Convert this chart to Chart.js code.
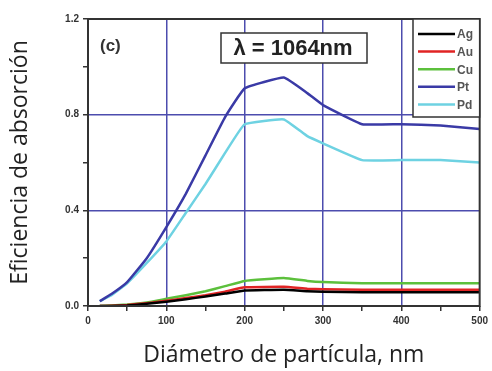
<!DOCTYPE html>
<html>
<head>
<meta charset="utf-8">
<script src="https://cdn.jsdelivr.net/npm/chart.js@4.4.0/dist/chart.umd.min.js"></script>
<style>
  html, body { margin: 0; padding: 0; background: #fff; }
  #wrap { width: 492px; height: 371px; }
</style>
</head>
<body>
<div id="wrap"><canvas id="chart" width="492" height="371"></canvas></div>
<script>
// particle diameter (nm)
const diam = [15, 30, 50, 75, 100, 125, 150, 175, 200, 250, 280, 300, 350, 400, 450, 500];

const metals = ["Ag", "Au", "Cu", "Pt", "Pd"];
const agVals = [0, 0, 0.002, 0.009, 0.018, 0.028, 0.040, 0.052, 0.065, 0.068, 0.062, 0.060, 0.058, 0.058, 0.058, 0.058];
const auVals = [0, 0.001, 0.004, 0.012, 0.022, 0.033, 0.045, 0.060, 0.078, 0.080, 0.072, 0.070, 0.068, 0.068, 0.068, 0.068];
const cuVals = [0, 0.002, 0.006, 0.015, 0.030, 0.045, 0.062, 0.083, 0.105, 0.117, 0.105, 0.100, 0.095, 0.095, 0.095, 0.095];
const ptVals = [0.02, 0.05, 0.10, 0.20, 0.33, 0.47, 0.63, 0.79, 0.91, 0.955, 0.89, 0.84, 0.76, 0.76, 0.755, 0.74];
const pdVals = [0.02, 0.045, 0.095, 0.18, 0.27, 0.39, 0.51, 0.64, 0.76, 0.78, 0.71, 0.68, 0.61, 0.61, 0.61, 0.60];

const colors = ["#000000", "#e02424", "#5cc03c", "#3a3aa6", "#6ed2e2"];
const series = [agVals, auVals, cuVals, ptVals, pdVals];

const gridBlue = "#4c4cae";
const dark = "#333333";

const boxPlugin = {
  id: "boxes",
  afterDatasetsDraw(chart) {
    const { ctx, chartArea: a } = chart;
    ctx.save();
    // frame
    ctx.strokeStyle = dark;
    ctx.lineWidth = 2;
    ctx.strokeRect(a.left, a.top, a.right - a.left, a.bottom - a.top);

    // (c) label
    ctx.fillStyle = dark;
    ctx.font = "bold 17px 'Liberation Sans', Arial, sans-serif";
    ctx.textBaseline = "middle";
    ctx.textAlign = "left";
    ctx.fillText("(c)", a.left + 12, 46);

    // wavelength box
    ctx.fillStyle = "#fff";
    ctx.fillRect(221, 33, 146, 30);
    ctx.strokeStyle = dark;
    ctx.lineWidth = 1.5;
    ctx.strokeRect(221, 33, 146, 30);
    ctx.fillStyle = "#222";
    ctx.font = "bold 22px 'Liberation Sans', Arial, sans-serif";
    ctx.textAlign = "center";
    ctx.fillText("\u03bb = 1064nm", 293, 49);

    // legend
    const lx = 413, ly = a.top, lw = a.right - 413, lh = 98;
    ctx.fillStyle = "#fff";
    ctx.fillRect(lx, ly, lw, lh);
    ctx.strokeStyle = dark;
    ctx.lineWidth = 1.5;
    ctx.strokeRect(lx, ly, lw, lh);
    ctx.font = "bold 12px 'Liberation Sans', Arial, sans-serif";
    ctx.textAlign = "left";
    chart.data.datasets.forEach((ds, i) => {
      const y = 34 + i * 17.6;
      ctx.strokeStyle = ds.borderColor;
      ctx.lineWidth = 2.5;
      ctx.beginPath();
      ctx.moveTo(418, y);
      ctx.lineTo(455, y);
      ctx.stroke();
      ctx.fillStyle = "#555";
      ctx.fillText(ds.label, 457, y + 1);
    });
    ctx.restore();
  }
};

new Chart(document.getElementById("chart"), {
  type: "line",
  plugins: [boxPlugin],
  data: {
    datasets: metals.map((m, i) => ({
      label: m,
      data: diam.map((d, j) => ({ x: d, y: series[i][j] })),
      borderColor: colors[i],
      backgroundColor: colors[i],
      borderWidth: 2.5,
      pointRadius: 0,
      tension: 0.1,
      fill: false
    }))
  },
  options: {
    responsive: false,
    animation: false,
    layout: { padding: { left: 3, right: 11, top: 19, bottom: 1 } },
    plugins: { legend: { display: false }, tooltip: { enabled: false } },
    scales: {
      x: {
        type: "linear",
        min: 0,
        max: 500,
        border: { display: false },
        ticks: {
          stepSize: 50,
          padding: 4,
          color: dark,
          font: { family: "'Liberation Sans', Arial, sans-serif", size: 10, weight: "bold" },
          maxRotation: 0,
          callback: v => (v % 100 === 0 ? v : "")
        },
        grid: {
          color: c => (c.tick && c.tick.value % 100 === 0 && c.tick.value > 0 && c.tick.value < 500 ? gridBlue : "rgba(0,0,0,0)"),
          lineWidth: 1.5,
          tickColor: dark,
          tickLength: 5,
          drawTicks: true
        },
        title: {
          display: true,
          text: "Diámetro de partícula, nm",
          color: "#222",
          font: { family: "'Open Sans', sans-serif", size: 23 },
          padding: { top: 2, bottom: 1 }
        },
        afterFit: s => { s.height = 64; }
      },
      y: {
        min: 0,
        max: 1.2,
        border: { display: false },
        ticks: {
          stepSize: 0.2,
          padding: 4,
          color: dark,
          font: { family: "'Liberation Sans', Arial, sans-serif", size: 10, weight: "bold" },
          callback: v => (Math.round(v * 10) % 4 === 0 ? v.toFixed(1) : "")
        },
        grid: {
          color: c => {
            const t = c.tick ? Math.round(c.tick.value * 10) : 0;
            return t % 4 === 0 && t > 0 && t < 12 ? gridBlue : "rgba(0,0,0,0)";
          },
          lineWidth: 1.5,
          tickColor: dark,
          tickLength: 5
        },
        title: {
          display: true,
          text: "Eficiencia de absorción",
          color: "#222",
          font: { family: "'Open Sans', sans-serif", size: 23 },
          padding: { top: 4, bottom: 4 }
        },
        afterFit: s => { s.width = 85; }
      }
    }
  }
});
</script>
</body>
</html>
